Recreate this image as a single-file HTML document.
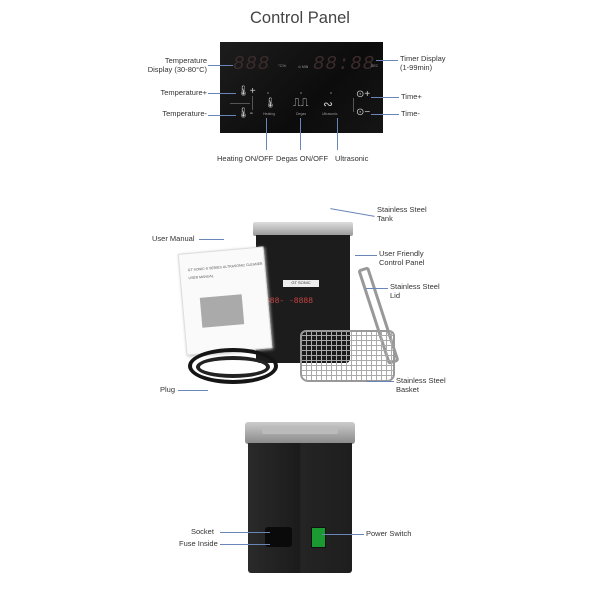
<!DOCTYPE html>
<html><head><meta charset="utf-8"><style>
body{margin:0;width:600px;height:600px;background:#fff;position:relative;overflow:hidden;font-family:"Liberation Sans",sans-serif;color:#333}
.a{position:absolute}
.t{position:absolute;font-size:7.5px;line-height:8.5px;color:#333;white-space:nowrap}
.r{text-align:right}
.l{position:absolute;background:#6a86b8}
.dig{position:absolute;color:#3d2c2c;font-family:"Liberation Mono",monospace;font-size:19px;letter-spacing:1px;font-style:italic}
.ico{position:absolute;color:#ccc;font-size:10px}
.sm{position:absolute;color:#999;font-size:3.5px}
</style></head><body>
<div class="a" style="left:0;width:600px;top:9px;text-align:center;font-size:16.5px;color:#444">Control Panel</div>

<!-- control panel -->
<div class="a" style="left:220px;top:42px;width:163px;height:91px;background:linear-gradient(135deg,#1d1d1d,#0c0c0c 60%,#151515)"></div>
<div class="dig" style="left:233px;top:53px">888</div>
<div class="sm" style="left:278px;top:63px;font-size:4px">°C%</div>
<div class="sm" style="left:298px;top:65px">⊙ MIN</div>
<div class="dig" style="left:313px;top:53px">88:88</div>
<div class="sm" style="left:371px;top:64px">SEC</div>
<div class="ico" style="left:237px;top:86px">🌡+</div>
<div class="a" style="left:230px;top:103px;width:20px;height:1px;background:#555"></div>
<div class="a" style="left:252px;top:96px;width:1px;height:14px;background:#555"></div>
<div class="ico" style="left:237px;top:108px">🌡-</div>
<div class="ico" style="left:264px;top:98px">🌡</div>
<div class="sm" style="left:263px;top:112px">Heating</div>
<div class="ico" style="left:293px;top:97px;font-size:11px">⎍⎍</div>
<div class="sm" style="left:296px;top:112px">Degas</div>
<div class="ico" style="left:323px;top:97px;font-size:12px">∾</div>
<div class="sm" style="left:322px;top:112px">Ultrasonic</div>
<div class="a" style="left:267px;top:92px;width:2px;height:2px;background:#444"></div>
<div class="a" style="left:300px;top:92px;width:2px;height:2px;background:#444"></div>
<div class="a" style="left:330px;top:92px;width:2px;height:2px;background:#444"></div>
<div class="ico" style="left:356px;top:89px">⊙+</div>
<div class="ico" style="left:356px;top:107px">⊙−</div>
<div class="a" style="left:353px;top:98px;width:1px;height:14px;background:#555"></div>

<div class="t r" style="right:393px;top:57px">Temperature<br>Display (30-80°C)</div>
<div class="l" style="left:208px;top:65px;width:25px;height:1px"></div>
<div class="t" style="left:400px;top:55px">Timer Display<br>(1-99min)</div>
<div class="l" style="left:376px;top:60px;width:22px;height:1px"></div>
<div class="t r" style="right:393px;top:89px">Temperature+</div>
<div class="l" style="left:208px;top:93px;width:28px;height:1px"></div>
<div class="t r" style="right:393px;top:110px">Temperature-</div>
<div class="l" style="left:208px;top:115px;width:28px;height:1px"></div>
<div class="t" style="left:401px;top:93px">Time+</div>
<div class="l" style="left:371px;top:97px;width:28px;height:1px"></div>
<div class="t" style="left:401px;top:110px">Time-</div>
<div class="l" style="left:371px;top:114px;width:28px;height:1px"></div>
<div class="l" style="left:266px;top:118px;width:1px;height:32px"></div>
<div class="l" style="left:300px;top:118px;width:1px;height:32px"></div>
<div class="l" style="left:337px;top:118px;width:1px;height:32px"></div>
<div class="t" style="left:217px;top:155px">Heating ON/OFF</div>
<div class="t" style="left:276px;top:155px">Degas ON/OFF</div>
<div class="t" style="left:335px;top:155px">Ultrasonic</div>

<!-- middle photo -->
<div class="a" style="left:253px;top:222px;width:100px;height:14px;background:linear-gradient(#ddd,#999);border-radius:2px"></div>
<div class="a" style="left:256px;top:235px;width:94px;height:128px;background:#1c1c1c;border-radius:0 0 4px 4px"></div>
<div class="a" style="left:283px;top:280px;width:36px;height:7px;background:#eee;font-size:4px;text-align:center;color:#333">GT SONIC</div>
<div class="a" style="left:265px;top:297px;width:78px;height:10px;color:#c44;font-size:8px;font-family:'Liberation Mono',monospace">888- -8888</div>
<div class="a" style="left:357px;top:268px;width:12px;height:100px;border:3px solid #999;border-radius:3px;transform:rotate(-18deg);transform-origin:top;box-sizing:border-box"></div>
<div class="a" style="left:182px;top:250px;width:84px;height:100px;background:#fafafa;border:1px solid #ddd;transform:rotate(-5deg);box-shadow:1px 1px 3px #bbb"></div>
<div class="a" style="left:188px;top:265px;font-size:3.5px;color:#555;transform:rotate(-5deg)">GT SONIC-S SERIES ULTRASONIC CLEANER<br><br>USER MANUAL</div>
<div class="a" style="left:201px;top:296px;width:42px;height:30px;background:#aaa;transform:rotate(-5deg)"></div>
<div class="a" style="left:188px;top:348px;width:90px;height:36px;border-radius:50%;border:4px solid #151515;box-sizing:border-box"></div>
<div class="a" style="left:196px;top:356px;width:74px;height:22px;border-radius:50%;border:4px solid #222;box-sizing:border-box"></div>
<div class="a" style="left:300px;top:330px;width:95px;height:52px;border:2px solid #999;border-radius:6px 6px 8px 8px;background:repeating-linear-gradient(90deg,transparent 0 4px,#aaa 4px 5px),repeating-linear-gradient(0deg,transparent 0 4px,#aaa 4px 5px);box-sizing:border-box"></div>
<div class="t" style="left:152px;top:235px">User Manual</div>
<div class="l" style="left:199px;top:239px;width:25px;height:1px"></div>
<div class="t" style="left:377px;top:206px">Stainless Steel<br>Tank</div>
<div class="l" style="left:330px;top:212px;width:45px;height:1px;transform:rotate(10deg)"></div>
<div class="t" style="left:379px;top:250px">User Friendly<br>Control Panel</div>
<div class="l" style="left:355px;top:255px;width:22px;height:1px"></div>
<div class="t" style="left:390px;top:283px">Stainless Steel<br>Lid</div>
<div class="l" style="left:366px;top:288px;width:22px;height:1px"></div>
<div class="t" style="left:396px;top:377px">Stainless Steel<br>Basket</div>
<div class="l" style="left:366px;top:381px;width:28px;height:1px"></div>
<div class="t" style="left:160px;top:386px">Plug</div>
<div class="l" style="left:178px;top:390px;width:30px;height:1px"></div>

<!-- bottom -->
<div class="a" style="left:245px;top:422px;width:110px;height:22px;background:linear-gradient(#ccc,#888);border-radius:3px"></div>
<div class="a" style="left:262px;top:426px;width:76px;height:8px;background:#bbb;border-radius:2px"></div>
<div class="a" style="left:248px;top:443px;width:104px;height:130px;background:linear-gradient(90deg,#2a2a2a,#1b1b1b 50%,#242424 50.5%,#1e1e1e);border-radius:0 0 3px 3px"></div>
<div class="a" style="left:265px;top:527px;width:27px;height:20px;background:#0a0a0a;border-radius:3px"></div>
<div class="a" style="left:311px;top:527px;width:13px;height:19px;background:#1a9a30;border:1px solid #111"></div>
<div class="t" style="left:191px;top:528px">Socket</div>
<div class="l" style="left:220px;top:532px;width:50px;height:1px"></div>
<div class="t" style="left:179px;top:540px">Fuse Inside</div>
<div class="l" style="left:220px;top:544px;width:50px;height:1px"></div>
<div class="t" style="left:366px;top:530px">Power Switch</div>
<div class="l" style="left:322px;top:534px;width:42px;height:1px"></div>
</body></html>
